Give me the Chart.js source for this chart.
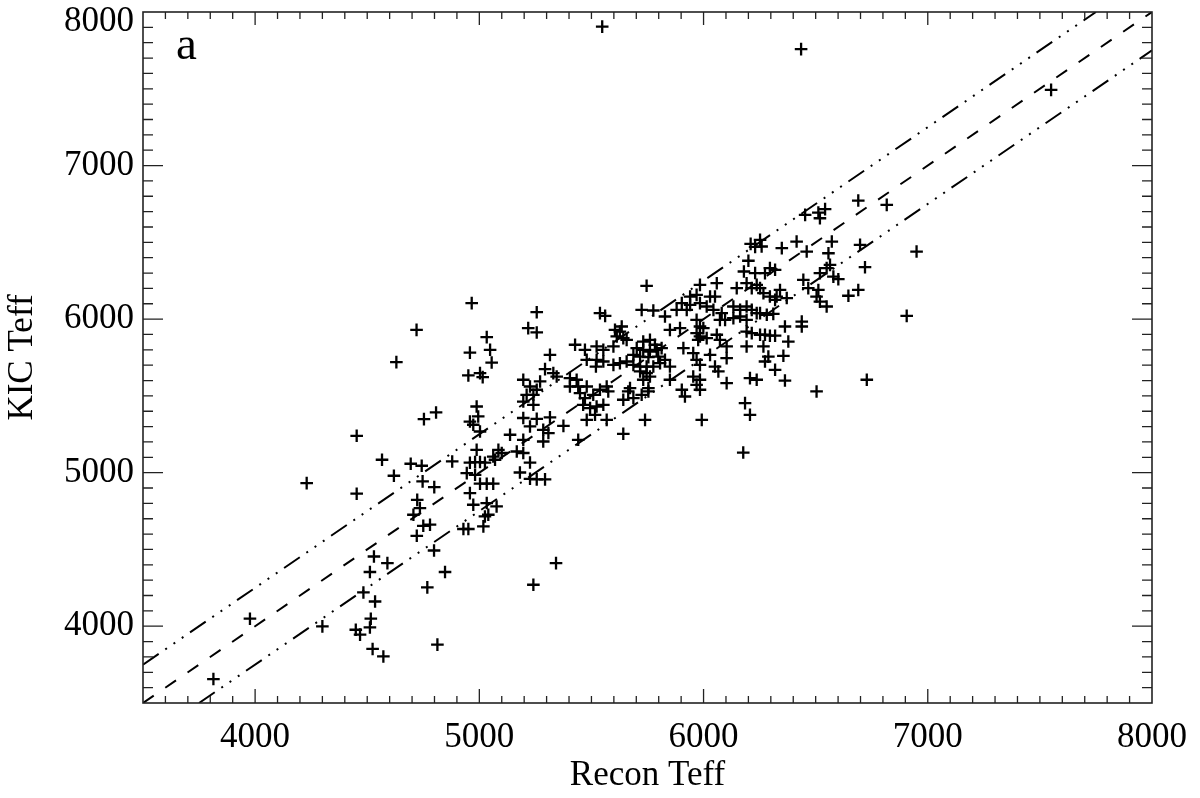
<!DOCTYPE html>
<html><head><meta charset="utf-8">
<script src="https://cdn.jsdelivr.net/npm/chart.js@4.4.1/dist/chart.umd.min.js"></script>
<style>html,body{margin:0;padding:0;background:#fff;}canvas{display:block;}</style>
</head><body>
<canvas id="c" width="1200" height="798"></canvas>
<script>
// Recon Teff (x) and KIC Teff (y) for each star
const reconTeff = [
4807,4753,4453,4566,4694,4743,4879,4619,4230,4747,4799,4453,4723,4735,4706,4750,4780,4721,4798,4530,4590,4512,4847,4768,4483,4535,3977,4516,4300,4512,4449,4468,4813,4524,4572,3814,
4630,4720,
4966,5256,5538,5561,5218,5256,5605,5033,5048,4958,5315,5427,5471,5523,5553,5479,5523,5553,5055,5520,4951,5003,5015,5293,5330,5345,5196,5271,5404,5434,5404,5441,5479,5226,5256,5211,5241,5449,5471,5508,5538,5196,5241,4988,5463,5494,5523,5553,4995,5196,5256,5315,4958,4973,5226,5375,5479,5516,5568,5285,5308,5003,5137,5196,5285,5441,4988,5085,5100,5062,5167,5196,4958,4981,5003,5025,5070,5226,4944,4981,5181,5003,5033,5062,5226,5256,5293,4958,4973,5033,5077,5040,5025,5018,4929,4951,5342,5241,
5746,5984,6059,6192,6237,6215,6148,5969,6029,6051,5940,5903,5724,5776,5828,5880,5925,5940,5984,6014,6044,6081,6133,6163,6192,6215,6237,6073,6096,6133,6163,6192,
5635,5627,5613,5642,5657,5598,5850,5895,5969,5984,5999,5969,5984,6014,5976,6059,6073,6103,6192,6215,6192,
5731,5761,5783,5702,5731,5761,5791,5813,5687,5717,5754,5798,5828,5657,5687,5717,5746,5776,5806,5850,5598,5627,
5910,5954,5969,5984,6029,6103,6051,6066,5717,5746,5761,5731,5850,5954,5984,5969,6103,6207,6237,
5568,5575,5672,5664,5754,5754,5903,5917,5984,5642,5687,5724,6185,6207,5739,5992,5642,6177,
6690,6817,6542,6512,6519,6453,6950,6252,6259,6349,6415,6460,6572,6557,6698,6720,6564,6549,6519,6579,6601,6445,6296,6319,6274,6467,6512,6504,6519,6549,6646,6690,6341,6326,6371,6252,6267,6296,6319,6906,6252,6282,6311,6438,6438,6363,6252,6274,6296,6319,6378,6267,6356,6289,6274,6319,6363,6728,6504,
6210,6230,6200,6180,6230,
5548,6435,7550
];
const kicTeff = [
5392,5349,5240,5084,5058,5045,5073,4980,4932,4943,4906,4863,4823,4769,4726,4654,4661,4589,4493,4454,4411,4353,4353,4253,4220,4161,4049,4049,3999,3992,3977,3945,3880,3852,3803,3656,
5720,5930,
6104,6045,6039,6021,5941,5913,5930,5883,5800,5782,5767,5833,5800,5822,5800,5735,5735,5724,5717,5691,5633,5648,5622,5674,5648,5626,5605,5594,5616,5605,5561,5561,5561,5561,5540,5507,5507,5518,5486,5507,5540,5463,5442,5431,5442,5420,5431,5442,5366,5356,5350,5360,5333,5312,5301,5305,5344,5377,5344,5279,5258,5268,5247,5214,5203,5214,5149,5149,5128,5105,5138,5128,5065,5069,5069,5065,5084,5066,4997,4986,5001,4928,4928,4928,4960,4956,4956,4867,4791,4802,4780,4726,4715,4650,4633,4633,4411,4270,
6217,6223,6234,6234,6223,6202,6202,6158,6147,6147,6147,6104,6060,6056,6017,6060,6060,6093,6104,6082,6060,6039,6082,6060,6082,6060,6039,5995,5995,6006,6017,5995,
5952,5919,5887,5876,5865,5822,5930,5941,5995,5952,5941,5909,5887,5876,5865,5898,5865,5822,5919,5909,5822,
5854,5865,5833,5811,5800,5789,5800,5811,5767,5756,5752,5756,5735,5724,5702,5691,5691,5691,5713,5691,5702,5713,
5811,5779,5735,5702,5767,5746,5691,5659,5659,5648,5626,5605,5605,5626,5605,5572,5583,5616,5605,
5561,5529,5551,5529,5551,5529,5540,5496,5540,5475,5486,5507,5453,5377,5344,5344,5253,5131,
6772,6744,6716,6694,6657,6679,6440,6516,6473,6462,6505,6440,6505,6429,6484,6338,6353,6332,6299,6277,6260,6256,6332,6321,6299,6202,6190,6147,6114,6082,6152,6190,6190,6147,6137,6202,6169,6147,6125,6021,6039,6028,6034,5984,5952,5952,5898,5898,5892,5892,5854,5822,5761,5756,5724,5670,5600,5605,5529,
6490,6470,6380,6310,6300,
7905,7758,7493
];
// tick labels
const xTickValues = [4000, 5000, 6000, 7000, 8000];
const yTickValues = [4000, 5000, 6000, 7000, 8000];
// reference lines: y = x and y = x +/- 250
const diagX = [3500, 8000], diagY = [3500, 8000];
const upperX = [3500, 7750], upperY = [3750, 8000];
const lowerX = [3750, 8000], lowerY = [3500, 7750];
const panelLabel = 'a';

const FONT = 'Liberation Serif';
const pts = reconTeff.map((x, i) => ({x: x, y: kicTeff[i]}));
const toPts = (xs, ys) => xs.map((x, i) => ({x: x, y: ys[i]}));

const framePlugin = {
  id: 'frameTicks',
  afterDraw(chart) {
    const {ctx, chartArea: a, scales: {x, y}} = chart;
    ctx.save();
    ctx.strokeStyle = '#222';
    ctx.lineWidth = 1.3;
    ctx.beginPath();
    for (let v = 3600; v < 8000; v += 100) {
      const major = v % 1000 === 0;
      const px = x.getPixelForValue(v);
      ctx.moveTo(px, a.bottom); ctx.lineTo(px, a.bottom - (major ? 14 : 7));
      ctx.moveTo(px, a.top); ctx.lineTo(px, a.top + (major ? 13 : 7));
      const py = y.getPixelForValue(v);
      ctx.moveTo(a.left, py); ctx.lineTo(a.left + (major ? 20 : 10), py);
      ctx.moveTo(a.right, py); ctx.lineTo(a.right - (major ? 20 : 10), py);
    }
    ctx.stroke();
    ctx.lineWidth = 1.6;
    ctx.strokeRect(a.left, a.top, a.right - a.left, a.bottom - a.top);
    ctx.fillStyle = '#000';
    ctx.font = '47px "' + FONT + '"';
    ctx.textBaseline = 'alphabetic';
    ctx.textAlign = 'left';
    ctx.fillText(panelLabel, a.left + 33, a.top + 47);
    ctx.restore();
  }
};

new Chart(document.getElementById('c'), {
  type: 'scatter',
  data: {
    datasets: [
      {data: pts, pointStyle: 'cross', pointRadius: 6.3, pointHoverRadius: 6.3,
       pointBorderWidth: 2.3, borderColor: '#000', backgroundColor: '#000'},
      {type: 'line', data: toPts(diagX, diagY), borderColor: '#000', borderWidth: 2,
       borderDash: [13, 14], pointRadius: 0, fill: false},
      {type: 'line', data: toPts(upperX, upperY), borderColor: '#000', borderWidth: 2,
       borderDash: [19, 8, 2, 8, 2, 8, 2, 8], pointRadius: 0, fill: false},
      {type: 'line', data: toPts(lowerX, lowerY), borderColor: '#000', borderWidth: 2,
       borderDash: [19, 8, 2, 8, 2, 8, 2, 8], pointRadius: 0, fill: false}
    ]
  },
  options: {
    responsive: false, animation: false, devicePixelRatio: 1,
    layout: {padding: {top: 12, right: 48, bottom: 0, left: 0}},
    plugins: {legend: {display: false}, tooltip: {enabled: false}},
    events: [],
    scales: {
      x: {
        type: 'linear', min: 3500, max: 8000,
        afterBuildTicks: s => { s.ticks = xTickValues.map(v => ({value: v})); },
        afterFit: s => { s.height = 95; s.paddingLeft = 0; s.paddingRight = 0; },
        grid: {display: false, drawTicks: false},
        border: {display: false},
        ticks: {font: {family: FONT, size: 35}, color: '#000', padding: 14,
                maxRotation: 0, autoSkip: false, callback: v => String(v)},
        title: {display: true, text: 'Recon Teff', color: '#000',
                font: {family: FONT, size: 35}, padding: {top: 0, bottom: 1}}
      },
      y: {
        type: 'linear', min: 3500, max: 8000,
        afterBuildTicks: s => { s.ticks = yTickValues.map(v => ({value: v})); },
        afterFit: s => { s.width = 143; s.paddingTop = 0; s.paddingBottom = 0; },
        grid: {display: false, drawTicks: false},
        border: {display: false},
        ticks: {
          font: {family: FONT, size: 35, lineHeight: 0.54},
          color: '#000', padding: 9, autoSkip: false,
          callback: v => (v === 8000 ? ['', String(v)] : String(v))
        },
        title: {display: true, text: 'KIC Teff', color: '#000',
                font: {family: FONT, size: 35}, padding: {top: 2, bottom: 0}}
      }
    }
  },
  plugins: [framePlugin]
});
</script>
</body></html>
